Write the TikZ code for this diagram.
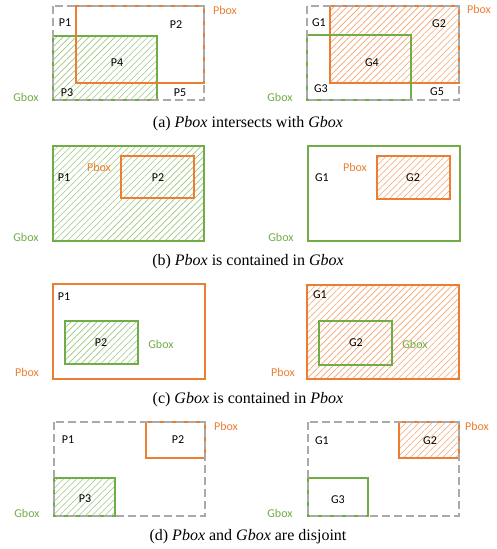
\documentclass[tikz,border=0pt]{standalone}
\usepackage{fontspec}
\newfontfamily\labfont{Carlito}
\newfontfamily\capfont{Liberation Serif}
\usetikzlibrary{patterns.meta}
\definecolor{pboxc}{RGB}{237,125,49}
\definecolor{gboxc}{RGB}{112,173,71}
\definecolor{grayc}{RGB}{170,170,170}
\tikzset{
 pline/.style={draw=pboxc, line width=2pt},
 gline/.style={draw=gboxc, line width=2pt},
 outerbox/.style={draw=grayc, line width=1.8pt, dash pattern=on 8pt off 4pt},
 phatch/.style={pattern={Lines[angle=45,distance=4.6pt,line width=0.6pt]}, pattern color=pboxc!70},
 ghatch/.style={pattern={Lines[angle=45,distance=4.6pt,line width=0.6pt]}, pattern color=gboxc!70},
 lab/.style={font=\labfont\fontsize{12}{14}\selectfont, text=black, inner sep=0pt},
 plab/.style={lab, text=pboxc},
 glab/.style={lab, text=gboxc},
 captext/.style={font=\capfont\fontsize{16}{19}\selectfont, inner sep=0pt},
}
\begin{document}
\begin{tikzpicture}[x=1pt,y=-1pt]
\useasboundingbox (0,0) rectangle (497,549);
% ---------- (a) left
\fill[ghatch] (53,36) rectangle (157,100);
\draw[gline] (53,36) rectangle (157,100);
\draw[pline] (76,6) rectangle (204,83);
\draw[outerbox] (53,6) rectangle (204,100);
\node[lab] (aP1) at (65,23) {P1};
\node[lab] (aP2) at (176,25) {P2};
\node[lab] (aP4) at (117,63) {P4};
\node[lab] (aP3) at (67,93) {P3};
\node[lab] (aP5) at (180,93) {P5};
\node[plab] (aPb) at (225,10) {Pbox};
\node[glab] (aGb) at (26,97) {Gbox};
% ---------- (a) right
\fill[phatch] (330,6) rectangle (459,83);
\draw[pline] (330,6) rectangle (459,83);
\draw[gline] (307,35) rectangle (411,100);
\draw[outerbox] (307,6) rectangle (459,100);
\node[lab] (aG1) at (319,23) {G1};
\node[lab] (aG2) at (439,24) {G2};
\node[lab] (aG4) at (372,63) {G4};
\node[lab] (aG3) at (321,89) {G3};
\node[lab] (aG5) at (437,92) {G5};
\node[plab] (aPb2) at (479,9) {Pbox};
\node[glab] (aGb2) at (280,97) {Gbox};
\node[captext] (capa) at (248,124) {(a) \textit{Pbox} intersects with \textit{Gbox}};
% ---------- (b) left
\fill[ghatch] (53,146) rectangle (204,241);
\draw[gline] (53,146) rectangle (204,241);
\draw[pline] (121,156) rectangle (194,198);
\node[lab] (bP1) at (64,178) {P1};
\node[plab] (bPb) at (99,167) {Pbox};
\node[lab] (bP2) at (158,178) {P2};
\node[glab] (bGb) at (26,237) {Gbox};
% ---------- (b) right
\draw[gline] (308,146) rectangle (460,241);
\fill[phatch] (377,156) rectangle (450,199);
\draw[pline] (377,156) rectangle (450,199);
\node[lab] (bG1) at (322,178) {G1};
\node[plab] (bPb2) at (355,167) {Pbox};
\node[lab] (bG2) at (413,178) {G2};
\node[glab] (bGb2) at (281,237) {Gbox};
\node[captext] (capb) at (248,262) {(b) \textit{Pbox} is contained in \textit{Gbox}};
% ---------- (c) left
\draw[pline] (53,284) rectangle (205,379);
\fill[ghatch] (65,321) rectangle (138,364);
\draw[gline] (65,321) rectangle (138,364);
\node[lab] (cP1) at (64,297) {P1};
\node[lab] (cP2) at (101,343) {P2};
\node[glab] (cGb) at (161,344) {Gbox};
\node[plab] (cPb) at (27,372) {Pbox};
% ---------- (c) right
\fill[phatch] (307,285) rectangle (459,379);
\draw[pline] (307,285) rectangle (459,379);
\draw[gline] (319,321) rectangle (392,365);
\node[lab] (cG1) at (320,295) {G1};
\node[lab] (cG2) at (356,343) {G2};
\node[glab] (cGb2) at (415,344) {Gbox};
\node[plab] (cPb2) at (283,372) {Pbox};
\node[captext] (capc) at (248,400) {(c) \textit{Gbox} is contained in \textit{Pbox}};
% ---------- (d) left
\draw[pline] (146,422) rectangle (205,458);
\fill[ghatch] (54,478) rectangle (115,516);
\draw[gline] (54,478) rectangle (115,516);
\draw[outerbox] (54,422) rectangle (205,516);
\node[lab] (dP1) at (68,440) {P1};
\node[lab] (dP2) at (178,440) {P2};
\node[lab] (dP3) at (85,499) {P3};
\node[plab] (dPb) at (226,426) {Pbox};
\node[glab] (dGb) at (27,513) {Gbox};
% ---------- (d) right
\fill[phatch] (399,422) rectangle (459,458);
\draw[pline] (399,422) rectangle (459,458);
\draw[gline] (308,478) rectangle (368,516);
\draw[outerbox] (308,422) rectangle (459,516);
\node[lab] (dG1) at (322,441) {G1};
\node[lab] (dG2) at (430,441) {G2};
\node[lab] (dG3) at (338,500) {G3};
\node[plab] (dPb2) at (477,426) {Pbox};
\node[glab] (dGb2) at (280,513) {Gbox};
\node[captext] (capd) at (248,537) {(d) \textit{Pbox} and \textit{Gbox} are disjoint};
\end{tikzpicture}
\end{document}
